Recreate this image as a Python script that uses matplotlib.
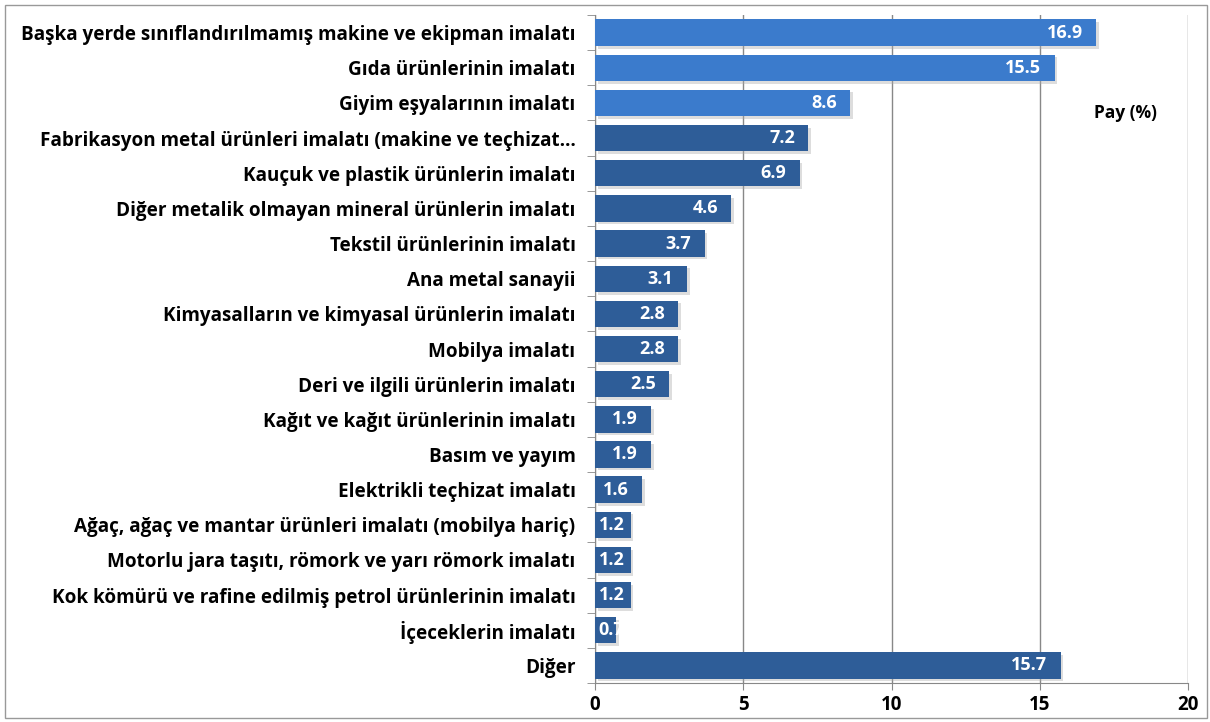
import matplotlib.pyplot as plt
import matplotlib.patheffects as pe
from matplotlib.patches import Rectangle
from matplotlib.ticker import FixedLocator

plt.rcParams['font.family'] = ['Open Sans', 'DejaVu Sans']

# data (top to bottom)
categories = [
    "Başka yerde sınıflandırılmamış makine ve ekipman imalatı",
    "Gıda ürünlerinin imalatı",
    "Giyim eşyalarının imalatı",
    "Fabrikasyon metal ürünleri imalatı (makine ve teçhizat…",
    "Kauçuk ve plastik ürünlerin imalatı",
    "Diğer metalik olmayan mineral ürünlerin imalatı",
    "Tekstil ürünlerinin imalatı",
    "Ana metal sanayii",
    "Kimyasalların ve kimyasal ürünlerin imalatı",
    "Mobilya imalatı",
    "Deri ve ilgili ürünlerin imalatı",
    "Kağıt ve kağıt ürünlerinin imalatı",
    "Basım ve yayım",
    "Elektrikli teçhizat imalatı",
    "Ağaç, ağaç ve mantar ürünleri imalatı (mobilya hariç)",
    "Motorlu jara taşıtı, römork ve yarı römork imalatı",
    "Kok kömürü ve rafine edilmiş petrol ürünlerinin imalatı",
    "İçeceklerin imalatı",
    "Diğer",
]
shares = [16.9, 15.5, 8.6, 7.2, 6.9, 4.6, 3.7, 3.1, 2.8, 2.8, 2.5, 1.9, 1.9, 1.6, 1.2, 1.2, 1.2, 0.7, 15.7]
highlight = [True, True, True] + [False] * 16

light_blue = "#3b7bcc"
dark_blue = "#2e5d98"
colors = [light_blue if h else dark_blue for h in highlight]

fig = plt.figure(figsize=(12.1, 7.22), dpi=100)
ax = fig.add_axes([595 / 1210, 1 - 683 / 722, (1188 - 595) / 1210, (683 - 15) / 722])

ypos = list(range(len(categories)))
bars = ax.barh(ypos, shares, height=0.75, color=colors, zorder=3)
for b in bars:
    b.set_path_effects([pe.SimplePatchShadow(offset=(2, -2), shadow_rgbFace="#aaaaaa", alpha=0.4), pe.Normal()])

for y, v in zip(ypos, shares):
    if v - 0.45 < 1.0:
        ax.text(0.12, y, f"{v}", ha="left", va="center", color="white",
                fontsize=13, fontweight="bold", zorder=4)
    else:
        ax.text(v - 0.45, y, f"{v}", ha="right", va="center", color="white",
                fontsize=13, fontweight="bold", zorder=4)

ax.set_xlim(0, 20)
ax.set_ylim(len(categories) - 0.5, -0.5)
ax.set_xticks([0, 5, 10, 15, 20])
ax.set_xticklabels(["0", "5", "10", "15", "20"], fontsize=13.5, fontweight="bold")
ax.set_yticks(ypos)
ax.set_yticklabels(categories, fontsize=13.6, fontweight="bold")
ax.yaxis.set_minor_locator(FixedLocator([i - 0.5 for i in range(len(categories) + 1)]))
ax.tick_params(axis="y", which="major", length=0, pad=14)
ax.tick_params(axis="y", which="minor", length=6, color="#888888", direction="out")
ax.tick_params(axis="x", length=5, color="#888888", pad=4)

ax.grid(axis="x", color="#888888", linewidth=1, zorder=0)
for s in ["top", "right"]:
    ax.spines[s].set_visible(False)
for s in ["left", "bottom"]:
    ax.spines[s].set_color("#888888")

fig.text(1125 / 1210, 1 - 113 / 722, "Pay (%)", ha="center", va="center",
         fontsize=12.5, fontweight="bold")

fig.patches.append(Rectangle((5 / 1210, 4 / 722), 1202 / 1210, 713 / 722,
                             transform=fig.transFigure, fill=False,
                             edgecolor="#999999", linewidth=1))

fig.savefig("out.png", dpi=100)
